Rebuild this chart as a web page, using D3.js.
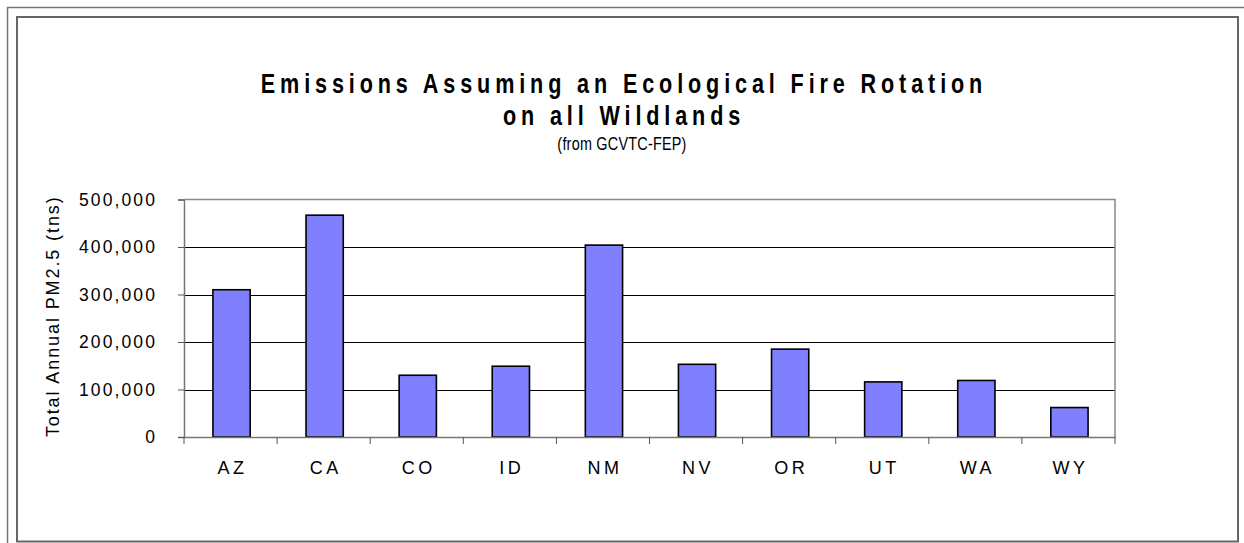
<!DOCTYPE html>
<html>
<head>
<meta charset="utf-8">
<script src="https://cdn.jsdelivr.net/npm/d3@7"></script>
<style>
  body { margin: 0; background: #fff; }
  svg { display: block; font-family: Arial, "Liberation Sans", sans-serif; }
</style>
</head>
<body>
<svg id="chart" width="1244" height="543"></svg>
<script>
const states = ["AZ", "CA", "CO", "ID", "NM", "NV", "OR", "UT", "WA", "WY"];
const pm25 = [310000, 467000, 130000, 149000, 404000, 153000, 185000, 116000, 119000, 62000];
const yTicks = [0, 100000, 200000, 300000, 400000, 500000];
const titleLines = ["Emissions Assuming an Ecological Fire Rotation", "on all Wildlands"];
const subTitle = "(from GCVTC-FEP)";
const yLabel = "Total Annual PM2.5 (tns)";

const vis = {

    svg : d3.select("#chart"),

    plot : { left : 184, right : 1115, top : 199.5, bottom : 437 },

    x : null,
    y : null,

    frames : {

        draw : function() {

            const svg = vis.svg;

            svg.append("rect")
              .attr("x", 7.5).attr("y", 7.5)
              .attr("width", 1260).attr("height", 560)
              .attr("fill", "none")
              .attr("stroke", "#777")
              .attr("stroke-width", 1.5);

            svg.append("rect")
              .attr("x", 17).attr("y", 17)
              .attr("width", 1221).attr("height", 524.5)
              .attr("fill", "none")
              .attr("stroke", "#666")
              .attr("stroke-width", 2);
        }
    },

    scales : {

        build : function() {

            const p = vis.plot;

            vis.x = d3.scaleBand()
              .domain(states)
              .range([p.left, p.right])
              .padding(0);

            vis.y = d3.scaleLinear()
              .domain([0, 500000])
              .range([p.bottom, p.top]);
        }
    },

    grid : {

        draw : function() {

            const p = vis.plot;

            vis.svg.append("g")
              .selectAll("line")
              .data(yTicks.filter(d => d > 0 && d < 500000))
              .join("line")
              .attr("x1", p.left).attr("x2", p.right)
              .attr("y1", d => Math.round(vis.y(d)) + 0.5)
              .attr("y2", d => Math.round(vis.y(d)) + 0.5)
              .attr("stroke", "#000")
              .attr("stroke-width", 1);

            // plot frame, top and right in gray
            vis.svg.append("path")
              .attr("d", `M${p.left},${p.top}H${p.right}V${p.bottom}`)
              .attr("fill", "none")
              .attr("stroke", "#888")
              .attr("stroke-width", 1.5);
        }
    },

    bars : {

        draw : function() {

            const bw = vis.x.bandwidth() * 0.4;

            vis.svg.append("g")
              .selectAll("rect")
              .data(states)
              .join("rect")
              .attr("x", (d, i) => vis.x(d) + (vis.x.bandwidth() - bw) / 2 + 1)
              .attr("y", (d, i) => vis.y(pm25[i]))
              .attr("width", bw)
              .attr("height", (d, i) => vis.y(0) - vis.y(pm25[i]))
              .attr("fill", "#8080ff")
              .attr("stroke", "#000")
              .attr("stroke-width", 1.6);
        }
    },

    axes : {

        draw : function() {

            const p = vis.plot;

            const ya = vis.svg.append("g")
              .attr("transform", `translate(${p.left},0)`)
              .call(d3.axisLeft(vis.y)
                .tickValues(yTicks)
                .tickSize(6)
                .tickPadding(21)
                .tickFormat(d3.format(",")));

            ya.select(".domain").attr("stroke", "#777").attr("stroke-width", 1.5);
            ya.selectAll(".tick line").attr("stroke", "#555");
            ya.selectAll(".tick text")
              .attr("font-size", 17.5)
              .attr("letter-spacing", 2.1)
              .attr("fill", "#000")
              .attr("font-family", "Arial, 'Liberation Sans', sans-serif");

            const xa = vis.svg.append("g")
              .attr("transform", `translate(0,${p.bottom})`)
              .call(d3.axisBottom(vis.x).tickSize(0).tickPadding(24));

            xa.select(".domain").attr("stroke", "#777").attr("stroke-width", 1.5);
            xa.selectAll(".tick text")
              .attr("font-size", 18)
              .attr("letter-spacing", 3.5)
              .attr("dx", 2)
              .attr("fill", "#000")
              .attr("font-family", "Arial, 'Liberation Sans', sans-serif");

            // category boundary ticks
            const bounds = states.map(s => vis.x(s)).concat([vis.x.range()[1]]);

            vis.svg.append("g")
              .selectAll("line")
              .data(bounds)
              .join("line")
              .attr("x1", d => d).attr("x2", d => d)
              .attr("y1", p.bottom).attr("y2", p.bottom + 7)
              .attr("stroke", "#555")
              .attr("stroke-width", 1);

            vis.svg.append("text")
              .attr("transform", `translate(59,${(p.top + p.bottom) / 2 - 2}) rotate(-90)`)
              .attr("text-anchor", "middle")
              .attr("font-size", 18)
              .attr("letter-spacing", 1.9)
              .text(yLabel);
        }
    },

    titles : {

        draw : function() {

            // the original title face is a narrow one, squeeze it a bit
            vis.svg.selectAll(".title")
              .data(titleLines)
              .join("text")
              .attr("class", "title")
              .attr("transform", (d, i) => `translate(624,${93 + i * 32}) scale(0.8,1)`)
              .attr("text-anchor", "middle")
              .attr("font-size", 27)
              .attr("font-weight", "bold")
              .attr("letter-spacing", 6.1)
              .text(d => d);

            vis.svg.append("text")
              .attr("transform", "translate(622,150) scale(0.8,1)")
              .attr("text-anchor", "middle")
              .attr("font-size", 18)
              .attr("letter-spacing", 0.3)
              .text(subTitle);
        }
    },

    ctrl : {

        init : function() {

            vis.frames.draw();
            vis.scales.build();
            vis.grid.draw();
            vis.bars.draw();
            vis.axes.draw();
            vis.titles.draw();
        }
    }
}

vis.ctrl.init();
</script>
</body>
</html>
